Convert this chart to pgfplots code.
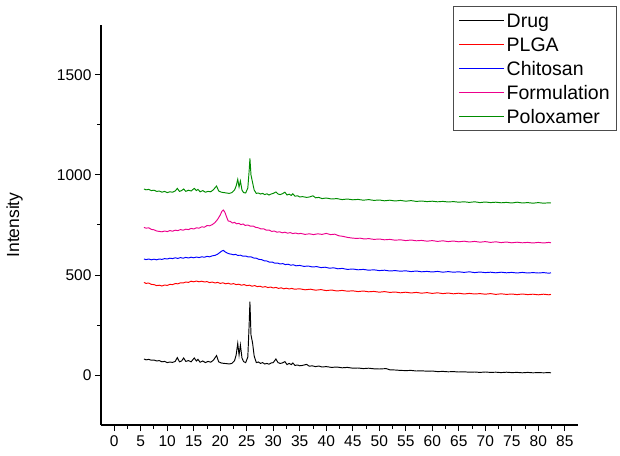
\documentclass[border=0pt]{standalone}
\usepackage{fontspec}
\setmainfont{Liberation Sans}
\usepackage{pgfplots}
\pgfplotsset{compat=1.18}
\definecolor{polgreen}{RGB}{0,140,0}
\begin{document}
\begin{tikzpicture}
\begin{axis}[
name=ax,
scale only axis, width=477pt, height=400pt,
xmin=-2.5, xmax=87.5, ymin=-250, ymax=1750,
axis lines=left, axis line style={-, line width=1.1pt},
xtick={0,5,...,85}, ytick={0,500,1000,1500},
minor x tick num=1, minor y tick num=1,
tick align=outside, major tick length=6pt, minor tick length=3.5pt,
tick style={black, line width=1pt},
/pgf/number format/assume math mode=true,
/pgf/number format/1000 sep={},
ticklabel style={font=\fontsize{15.5}{18}\selectfont},
xticklabel style={yshift=-1pt},
ylabel={Intensity},
ylabel style={font=\fontsize{17.5}{21}\selectfont, at={(axis description cs:-0.181,0.5)}, anchor=center},
legend cell align=left,
legend image code/.code={\draw[#1, line width=1.2pt] (0pt,0pt) -- (45pt,0pt);},
legend style={at={(1.082,1.0475)}, anchor=north east, draw=black!70, line width=0.9pt,
  font=\fontsize{19.5}{23}\selectfont, row sep=0pt, inner xsep=5pt, inner ysep=2pt,
  nodes={inner sep=2pt, text height=17pt, text depth=3pt}},
every axis plot/.append style={line width=0.95pt},
]

% Drug
\addplot[black] coordinates {
(5.6,80) (6,76) (6.5,78) (7,74) (7.5,75) (8,70) (8.5,72) (9,66) (9.5,68) (10,62) (10.5,65) (11,63) (11.5,68) (11.9,87) (12.3,66) (12.7,70) (13.1,85) (13.5,68) (14,72) (14.5,66) (15.1,85) (15.5,70) (15.8,78) (16.2,64) (16.7,70) (17.2,62) (17.7,68) (18.2,64) (18.7,74) (19.3,97) (19.7,66) (20.2,60) (20.7,58) (21.2,57) (21.7,55) (22.2,58) (22.7,72) (23,100) (23.3,158) (23.55,100) (23.8,150) (24.1,85) (24.4,67) (24.8,62) (25.2,90) (25.45,250) (25.6,367) (25.8,200) (26.1,160) (26.4,95) (26.8,62) (27.2,65) (27.6,58) (28,62) (28.4,55) (28.8,58) (29.2,54) (29.6,60) (30,62) (30.5,80) (30.9,62) (31.3,58) (31.7,60) (32.2,67) (32.6,52) (33,58) (33.4,52) (33.7,60) (34.1,48) (34.6,50) (35,46) (35.5,48) (36.3,53) (36.8,44) (37.3,46) (38,42) (38.6,45) (39.2,40) (40,42) (41,38) (42,40) (43,36) (44,38) (45,34) (46,35) (47,32) (48,34) (49,31) (50,30) (51.3,32) (52,26) (53,25) (54,23) (55,22) (56,23) (57,20) (58,21) (59,19) (60,20) (61,17) (62,18) (63,16) (64,17) (65,15) (66,16) (67,14) (68,15) (69,13) (70,15) (71,13) (72,14) (73,12) (74,14) (75,12) (76,13) (77,11) (78,13) (79,11) (80,12) (81,11) (82,12) (82.4,11)
};
\addlegendentry{Drug}

% PLGA
\addplot[red] coordinates {
(5.6,463) (6,458) (6.5,460) (7,453) (7.5,452) (8,447) (8.5,449) (9,445) (9.5,450) (10,448) (10.5,453) (11,452) (11.5,457) (12,456) (12.5,461) (13,460) (13.5,465) (14,463) (14.5,469) (15,466) (15.5,470) (16,466) (16.5,469) (17,465) (17.5,467) (18,462) (18.5,465) (19,460) (19.5,463) (20,458) (20.5,461) (21,456) (21.5,459) (22,454) (22.5,457) (23,452) (23.5,454) (24,449) (24.5,452) (25,447) (25.5,449) (26,444) (26.5,447) (27,442) (27.5,444) (28,439) (28.5,442) (29,437) (29.5,440) (30,435) (30.5,438) (31,433) (31.5,436) (32,431) (32.5,434) (33,430) (33.5,433) (34,429) (35,431) (36,426) (37,429) (38,424) (39,427) (40,422) (41,425) (42,420) (43,423) (44,419) (45,421) (46,417) (47,420) (48,416) (49,418) (50,414) (51,417) (52,413) (53,415) (54,411) (55,414) (56,410) (57,413) (58,409) (59,412) (60,408) (61,411) (62,407) (63,410) (64,406) (65,409) (66,405) (67,408) (68,405) (69,407) (70,404) (71,407) (72,403) (73,406) (74,403) (75,405) (76,402) (77,405) (78,402) (79,404) (80,401) (81,404) (82,401) (82.4,403)
};
\addlegendentry{PLGA}

% Chitosan
\addplot[blue] coordinates {
(5.6,580) (6,577) (6.5,580) (7,576) (7.5,579) (8,576) (8.5,580) (9,578) (9.5,582) (10,580) (10.5,584) (11,582) (11.5,586) (12,583) (12.5,587) (13,584) (13.5,588) (14,585) (14.5,589) (15,586) (15.5,590) (16,587) (16.5,591) (17,589) (17.5,593) (18,591) (18.5,596) (19,598) (19.5,604) (20,614) (20.3,620) (20.6,623) (20.9,616) (21.3,610) (21.7,606) (22.1,604) (22.5,601) (22.9,603) (23.3,598) (23.8,599) (24.3,594) (24.8,595) (25.3,590) (25.8,591) (26.3,585) (26.8,584) (27.3,578) (27.8,577) (28.3,571) (28.8,570) (29.3,564) (29.8,565) (30.3,559) (30.8,560) (31.3,555) (31.8,557) (32.3,552) (32.8,554) (33.3,549) (33.8,551) (34.3,546) (35,548) (35.8,543) (36.6,545) (37.4,540) (38.2,542) (39,537) (39.8,539) (40.6,534) (41.4,536) (42.2,531) (43,533) (44,528) (45,530) (46,526) (47,528) (48,524) (49,526) (50,522) (51,524) (52,520) (53,522) (54,519) (55,521) (56,517) (57,520) (58,516) (59,518) (60,515) (61,518) (62,514) (63,517) (64,514) (65,516) (66,513) (67,516) (68,512) (69,515) (70,512) (71,514) (72,511) (73,514) (74,511) (75,513) (76,510) (77,513) (78,510) (79,512) (80,510) (81,512) (82,509) (82.4,511)
};
\addlegendentry{Chitosan}

% Formulation
\addplot[magenta] coordinates {
(5.6,738) (6,734) (6.5,736) (7,728) (7.5,726) (8,720) (8.5,718) (9,716) (9.5,720) (10,717) (10.5,722) (11,719) (11.5,724) (12,722) (12.5,727) (13,724) (13.5,729) (14,727) (14.5,733) (15,730) (15.5,736) (16,734) (16.5,741) (17,739) (17.5,747) (18,746) (18.5,752) (19,762) (19.5,778) (20,800) (20.3,818) (20.6,825) (20.9,812) (21.2,790) (21.5,770) (21.9,768) (22.3,760) (22.7,763) (23.1,756) (23.5,758) (23.9,752) (24.3,755) (24.7,748) (25.2,750) (25.7,744) (26.2,745) (26.7,738) (27.2,736) (27.7,730) (28.2,731) (28.7,724) (29.2,725) (29.7,718) (30.2,720) (30.7,714) (31.2,716) (31.7,711) (32.2,714) (32.7,709) (33.2,712) (33.7,707) (34.2,710) (34.7,706) (35.2,708) (36,703) (36.8,706) (37.6,702) (38.4,706) (39.2,703) (40,708) (40.8,702) (41.6,704) (42.4,696) (43.2,693) (44,688) (44.8,685) (45.6,683) (46.4,684) (47.2,680) (48,682) (49,678) (50,680) (51,676) (52,678) (53,674) (54,676) (55,672) (56,675) (57,671) (58,673) (59,669) (60,672) (61,668) (62,671) (63,667) (64,670) (65,666) (66,669) (67,665) (68,668) (69,664) (70,667) (71,663) (72,666) (73,662) (74,665) (75,661) (76,664) (77,661) (78,663) (79,660) (80,663) (81,660) (82,663) (82.4,661)
};
\addlegendentry{Formulation}

% Poloxamer
\addplot[polgreen] coordinates {
(5.6,930) (6,926) (6.5,928) (7,922) (7.5,924) (8,918) (8.5,920) (9,914) (9.5,918) (10,912) (10.5,916) (11,914) (11.5,920) (11.9,933) (12.3,918) (12.7,922) (13.1,930) (13.5,918) (14,924) (14.5,920) (15.1,933) (15.5,922) (15.8,928) (16.2,916) (16.7,922) (17.2,914) (17.7,918) (18.2,916) (18.7,926) (19.3,945) (19.7,920) (20.2,914) (20.7,912) (21.2,910) (21.7,908) (22.2,912) (22.7,925) (23,945) (23.3,978) (23.55,940) (23.8,970) (24.1,925) (24.4,912) (24.8,910) (25.2,935) (25.45,1020) (25.6,1083) (25.8,1000) (26.1,962) (26.4,925) (26.8,908) (27.2,910) (27.6,905) (28,908) (28.4,902) (28.8,906) (29.2,900) (29.6,905) (30,908) (30.5,915) (30.9,905) (31.3,902) (31.7,906) (32.2,914) (32.6,900) (33,904) (33.4,898) (33.7,906) (34.1,894) (34.6,896) (35,890) (35.5,892) (36.3,888) (36.8,890) (37.5,896) (38,886) (38.6,888) (39.2,882) (40,885) (41,880) (42,882) (43,877) (44,880) (45,876) (46,878) (47,874) (48,877) (49,873) (50,875) (51,871) (52,874) (53,870) (54,873) (55,869) (56,872) (57,868) (58,870) (59,867) (60,869) (61,866) (62,868) (63,865) (64,867) (65,864) (66,866) (67,863) (68,866) (69,862) (70,865) (71,862) (72,864) (73,861) (74,863) (75,860) (76,864) (77,860) (78,862) (79,859) (80,862) (81,859) (82,861) (82.4,860)
};
\addlegendentry{Poloxamer}

\end{axis}
\path ([shift={(-101pt,-30pt)}]ax.south west) rectangle ([shift={(42pt,25pt)}]ax.north east);
\end{tikzpicture}
\end{document}
